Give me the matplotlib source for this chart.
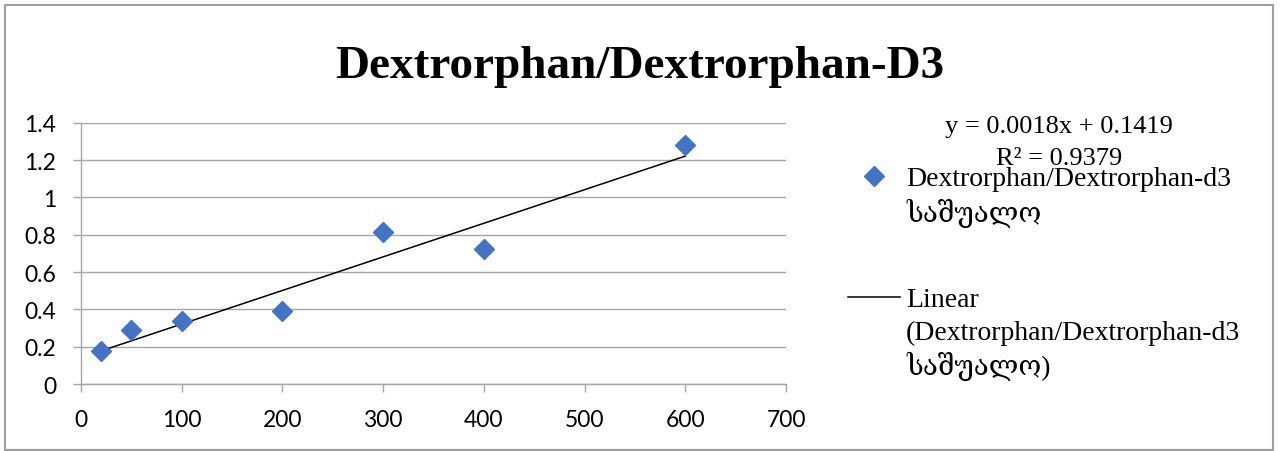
import numpy as np
import matplotlib.pyplot as plt
from matplotlib.lines import Line2D
from matplotlib.patches import Rectangle
from matplotlib.ticker import FuncFormatter, MultipleLocator

# concentration vs. mean area ratio
conc = [20, 50, 100, 200, 300, 400, 600]
ratio = [0.175, 0.288, 0.339, 0.393, 0.816, 0.722, 1.282]

# Excel trendline coefficients as printed on the chart
slope = 0.0018
intercept = 0.1419
r_squared = 0.9379

title = 'Dextrorphan/Dextrorphan-D3'
series_name = 'Dextrorphan/Dextrorphan-d3'
georgian = 'საშუალო'

serif = ['Liberation Serif', 'DejaVu Serif', 'DejaVu Sans']
sans = ['Lato', 'DejaVu Sans']
blue = '#4472C4'
grid_gray = '#a6a6a6'

fig = plt.figure(figsize=(12.8, 4.52), dpi=100)
ax = fig.add_axes([0.0633, 0.148, 0.5508, 0.578])

ax.plot(conc, ratio, linestyle='none', marker='D', ms=10, color=blue, zorder=3)
xfit = np.array([min(conc), max(conc)])
ax.plot(xfit, slope * xfit + intercept, color='black', lw=1.1, zorder=2)

ax.set_xlim(0, 700)
ax.set_ylim(0, 1.4)
ax.xaxis.set_major_locator(MultipleLocator(100))
ax.yaxis.set_major_locator(MultipleLocator(0.2))
ax.yaxis.set_major_formatter(FuncFormatter(lambda v, p: f'{round(v, 1):g}'))
ax.grid(axis='y', color=grid_gray, lw=1.0)
ax.set_axisbelow(True)
for s in ['top', 'right']:
    ax.spines[s].set_visible(False)
for s in ['left', 'bottom']:
    ax.spines[s].set_color(grid_gray)
    ax.spines[s].set_linewidth(1.0)
ax.tick_params(axis='y', length=6, width=1.0, color=grid_gray, pad=12)
ax.tick_params(axis='x', length=6, width=1.0, color=grid_gray, pad=12)
for lab in ax.get_xticklabels() + ax.get_yticklabels():
    lab.set_family(sans)
    lab.set_fontsize(16.5)

fig.text(0.5, 1 - 78 / 452, title, ha='center', va='baseline',
         family=serif, fontsize=34, weight='bold')

# va='baseline' pins the last line, so give the R² baseline
fig.text(1059 / 1280, 1 - 165 / 452, f'y = {slope}x + {intercept}\nR² = {r_squared}',
         ha='center', va='baseline', multialignment='center',
         family=serif, fontsize=19, linespacing=1.57)

blank = Line2D([], [], linestyle='none')
h_pts = Line2D([], [], linestyle='none', marker='D', ms=10, color=blue)
h_fit = Line2D([], [], color='black', lw=1.1)
leg_kw = dict(frameon=False, prop={'family': serif, 'size': 20}, borderpad=0,
              borderaxespad=0, handlelength=1.87, handletextpad=0.22,
              labelspacing=0.24, loc='upper left', bbox_transform=fig.transFigure)
leg1 = ax.legend([h_pts, blank], [series_name, georgian],
                 bbox_to_anchor=(848 / 1280, 1 - 167 / 452), **leg_kw)
ax.add_artist(leg1)
ax.legend([h_fit, blank, blank],
          ['Linear', f'({series_name}', f'{georgian})'],
          bbox_to_anchor=(848 / 1280, 1 - 288 / 452), **leg_kw)

fig.patches.append(Rectangle((5 / 1280, 1 - 451 / 452), 1268 / 1280, 445 / 452,
                             transform=fig.transFigure, fill=False,
                             edgecolor='#a0a0a0', lw=1.5))

fig.savefig('out.png', dpi=100, facecolor='white')
